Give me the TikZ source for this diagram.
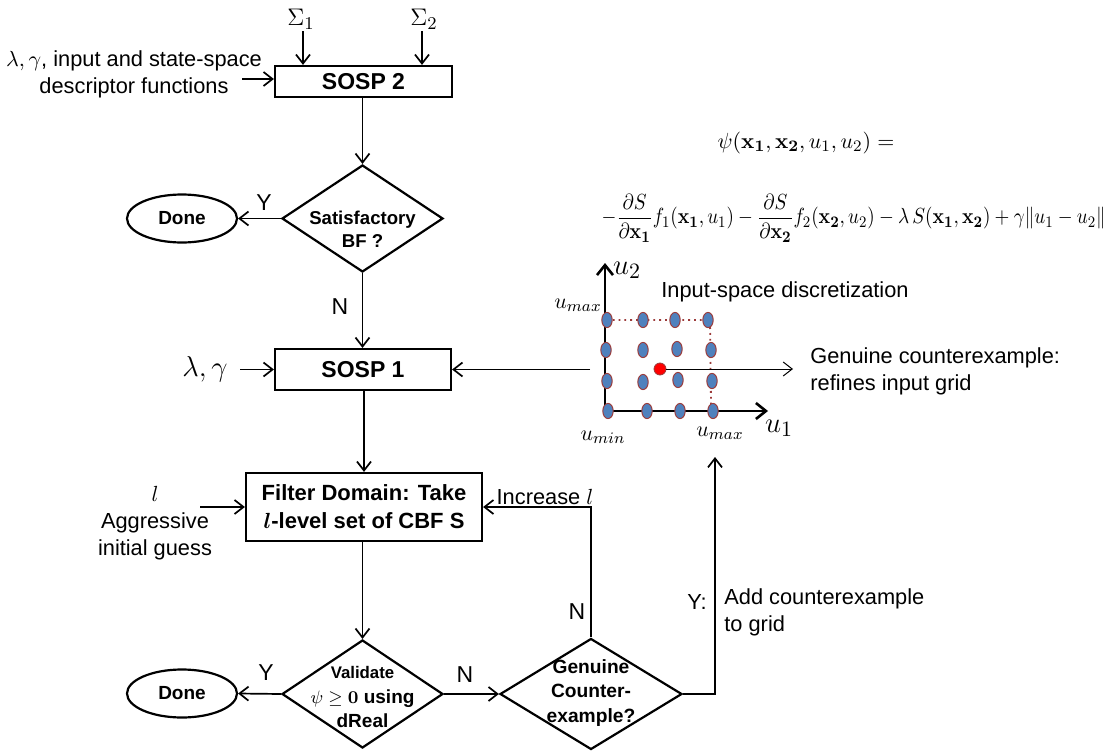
\documentclass[tikz,border=0pt]{standalone}
\usepackage{amsmath}
\usepackage{graphicx}
\usepackage[no-math]{fontspec}
\setmainfont{Liberation Sans}
\usepackage{bm}
\usetikzlibrary{shapes.geometric,arrows.meta}

\definecolor{dotblue}{HTML}{4F81BD}
\definecolor{dotedge}{HTML}{9C3B3A}
\definecolor{cexred}{HTML}{FF0000}

\tikzset{
  stepbox/.style={draw, rectangle, line width=1.1pt, inner sep=0pt, align=center},
  decision/.style={draw, diamond, line width=1.1pt, inner sep=0pt},
  terminal/.style={draw, ellipse, line width=1.1pt, inner sep=0pt,
    minimum width=55pt, minimum height=24pt, font=\fontsize{9.5}{11}\selectfont\bfseries},
  dtext/.style={align=center, inner sep=0pt},
  arr/.style={line width=0.85pt, -{Straight Barb[length=4.5pt,width=7pt]}},
  lbl/.style={font=\fontsize{10.9}{13.5}\selectfont, inner sep=1pt},
  yn/.style={font=\fontsize{11.5}{13}\selectfont, inner sep=0pt},
  axis/.style={line width=1.3pt, -{Straight Barb[length=5pt,width=8pt,line width=1.3pt]}},
  gridpt/.style={fill=dotblue, draw=dotedge, line width=0.5pt},
  gridline/.style={draw=dotedge, line width=0.9pt, dotted},
}

\begin{document}
\begin{tikzpicture}[x=0.5pt, y=-0.5pt]
\useasboundingbox (0,0) rectangle (1115,755);

% ---------- top: SOSP 2 and its inputs ----------
\node[stepbox, minimum width=88.5pt, minimum height=15.5pt,
      font=\fontsize{11.5}{13}\selectfont\bfseries] (sosp2) at (363.5,81.5) {SOSP 2};
\node[font=\fontsize{13}{15}\selectfont, inner sep=1pt] (sig1) at (301,19) {$\Sigma_1$};
\node[font=\fontsize{13}{15}\selectfont, inner sep=1pt] (sig2) at (424,19) {$\Sigma_2$};
\coordinate (s1in) at (303,31);
\coordinate (s2in) at (422,31);
\draw[arr] (s1in) -- (s1in |- sosp2.north);
\draw[arr] (s2in) -- (s2in |- sosp2.north);
\node[lbl, align=center] (desc) at (134,74)
  {$\lambda,\gamma$, input and state-space\\descriptor functions};
\coordinate (descout) at (242,79);
\draw[arr] (descout) -- (descout -| sosp2.west);

% ---------- first decision ----------
\node[decision, minimum width=80.5pt, minimum height=53.5pt] (sat) at (362.5,218.5) {};
\node[dtext, font=\fontsize{9.3}{11.5}\selectfont\bfseries] (satT) at (362.5,229) {Satisfactory\\BF ?};
\draw[arr] (sosp2.south -| sat.north) -- (sat.north);
\node[terminal] (doneA) at (182,218.5) {Done};
\draw[arr] (sat.west) -- (doneA.east);
\node[yn] (yA) at (264,203) {Y};

% ---------- SOSP 1 ----------
\node[stepbox, minimum width=88pt, minimum height=20.5pt,
      font=\fontsize{11.5}{13}\selectfont\bfseries] (sosp1) at (363,369.5) {SOSP 1};
\draw[arr] (sat.south) -- (sat.south |- sosp1.north);
\node[yn] (nA) at (340,307) {N};
\node[font=\fontsize{14}{16}\selectfont, inner sep=1pt] (lg) at (205,369) {$\lambda,\gamma$};
\coordinate (lgout) at (240,369.5);
\draw[arr] (lgout) -- (sosp1.west);
\coordinate (gridIn) at (590,369.5);
\draw[arr] (gridIn) -- (sosp1.east);

% ---------- filter step ----------
\node[stepbox, minimum width=118pt, minimum height=34pt,
      font=\fontsize{11}{14}\selectfont\bfseries] (filter) at (364,507)
  {Filter Domain: Take\\$\bm{l}$-level set of CBF S};
\draw[arr] (sosp1.south -| filter.north) -- (filter.north);
\node[lbl, align=center] (guess) at (155,523)
  {$l$\\Aggressive\\initial guess};
\coordinate (guessout) at (200,507);
\draw[arr] (guessout) -- (filter.west);

% ---------- validation ----------
\node[decision, minimum width=80.5pt, minimum height=54pt] (val) at (362.5,694) {};
\node[dtext, font=\fontsize{9.5}{12.2}\selectfont\bfseries] (valT) at (362.5,697)
  {{\fontsize{8.4}{12.2}\selectfont Validate}\\$\psi \geq \mathbf{0}$ using\\dReal};
\draw[arr] (filter.south -| val.north) -- (val.north);
\node[terminal] (doneB) at (182,693.5) {Done};
\draw[arr] (val.west) -- (doneB.east);
\node[yn] (yB) at (266,673) {Y};

\node[decision, minimum width=91pt, minimum height=55.5pt] (gen) at (591,694) {};
\node[dtext, font=\fontsize{9.6}{12.2}\selectfont\bfseries] (genT) at (591,693)
  {Genuine\\Counter-\\example?};
\draw[arr] (val.east) -- (gen.west);
\node[yn] (nB) at (465,675) {N};

% N branch: raise the level
\draw[arr] (gen.north) |- (filter.east);
\node[yn] (nC) at (577,612) {N};
\node[lbl] (incl) at (545,497) {Increase $l$};

% Y branch: refine the grid
\coordinate (gridOut) at (715,457);
\draw[arr] (gen.east) -| (gridOut);
\node[lbl] (yC) at (697,602) {Y:};
\node[lbl, align=left, anchor=west] (addc) at (722,612) {Add counterexample\\to grid};

% ---------- formula ----------
\node[font=\fontsize{11}{13}\selectfont, inner sep=0pt] (psiA) at (806,143)
  {$\psi(\mathbf{x_1},\mathbf{x_2},u_1,u_2) =$};
\node[font=\fontsize{11}{13}\selectfont, inner sep=0pt, anchor=east] (psiB) at (1106,218)
  {\resizebox{252pt}{\height}{$\displaystyle -\frac{\partial S}{\partial \mathbf{x_1}} f_1(\mathbf{x_1},u_1)
   - \frac{\partial S}{\partial \mathbf{x_2}} f_2(\mathbf{x_2},u_2)
   - \lambda\, S(\mathbf{x_1},\mathbf{x_2}) + \gamma\|u_1-u_2\|$}};

% ---------- input-space grid ----------
\coordinate (origin) at (605,411);
\draw[gridline] (607,320) -- (710,320) -- (711,404);
\draw[axis] (origin) -- (605,263);
\draw[axis] (origin) -- (768,411);
\foreach \gx/\gy in {607/320, 643/320, 675/320, 708/320,
                     606/350, 643/350, 677/349, 711/350,
                     607/381, 643/382, 678/380, 712/381,
                     608/411, 647/411, 680/411, 713/411}
  \filldraw[gridpt] (\gx,\gy) ellipse [x radius=2.6pt, y radius=3.8pt];
\node[circle, fill=cexred, draw=dotedge, line width=0.4pt, minimum size=6pt,
      inner sep=0pt] (cex) at (660,369) {};
\coordinate (cexout) at (793,369);
\draw[line width=0.5pt, -{Straight Barb[length=4.5pt,width=7pt]}] (cex.east) -- (cexout);

\node[font=\fontsize{15}{17}\selectfont, inner sep=0pt] (u2) at (627,270) {$u_2$};
\node[font=\fontsize{15}{17}\selectfont, inner sep=0pt] (u1) at (779,428) {$u_1$};
\node[font=\fontsize{11}{13}\selectfont, inner sep=0pt] (umaxA) at (578,305) {$u_{max}$};
\node[font=\fontsize{11}{13}\selectfont, inner sep=0pt] (umin) at (603,437) {$u_{min}$};
\node[font=\fontsize{11}{13}\selectfont, inner sep=0pt] (umaxB) at (720,433) {$u_{max}$};
\node[lbl] (disc) at (785,292) {Input-space discretization};
\node[lbl, align=left, anchor=west] (gce) at (808,371)
  {Genuine counterexample:\\refines input grid};
\end{tikzpicture}
\end{document}
